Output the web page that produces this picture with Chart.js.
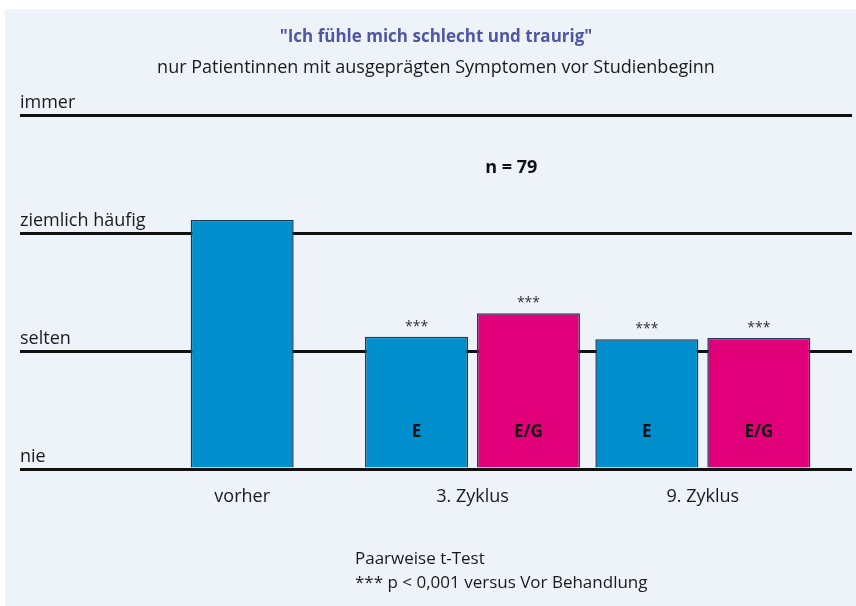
<!DOCTYPE html>
<html lang="de">
<head>
<meta charset="utf-8">
<title>Ich fühle mich schlecht und traurig</title>
<script src="https://cdn.jsdelivr.net/npm/chart.js@4.4.1/dist/chart.umd.min.js"></script>
<style>
    html, body { margin: 0; padding: 0; background: #ffffff; }
    .wrap { position: relative; width: 856px; height: 606px; overflow: hidden; }
    .panel { position: absolute; left: 5px; top: 9px; right: 0; bottom: 0; background: #eef2f9; }
    canvas { position: absolute; left: 0; top: 0; }
    .footer {
        position: absolute; left: 355px; top: 546px;
        font-family: 'Open Sans', sans-serif; font-size: 17px; line-height: 24px; color: #1a1a1a;
    }
</style>
</head>
<body>
<div class="wrap">
    <div class="panel"></div>
    <canvas id="chart" width="856" height="606"></canvas>
    <div class="footer">Paarweise t-Test<br>*** p &lt; 0,001 versus Vor Behandlung</div>
</div>
<script>
/* ---- data ---- */
const categories = ['vorher', '3. Zyklus', '9. Zyklus'];
const levelLabels = ['nie', 'selten', 'ziemlich häufig', 'immer'];   // 0..3
const valuesE = [2.11, 1.12, 1.10];
const valuesEG = [null, 1.32, 1.11];
const starsE = ['', '***', '***'];
const starsEG = ['', '***', '***'];
const sampleNote = 'n = 79';

const BLUE = '#008ecc';
const MAGENTA = '#e2007a';
const FONT = "'Open Sans', sans-serif";

// bar annotations: stars above, series name inside near the base
const barLabels = {
    id: 'barLabels',
    afterDatasetsDraw(chart) {
        const ctx = chart.ctx;
        const y = chart.scales.y;
        ctx.save();
        ctx.textAlign = 'center';
        ctx.textBaseline = 'middle';
        chart.data.datasets.forEach((ds, di) => {
            const meta = chart.getDatasetMeta(di);
            meta.data.forEach((bar, i) => {
                if (ds.data[i] == null) return;
                const stars = ds.stars[i];
                if (stars) {
                    ctx.fillStyle = '#333333';
                    ctx.font = '14px ' + FONT;
                    ctx.fillText(stars, bar.x, bar.y - 10);
                }
                if (i > 0) {
                    ctx.fillStyle = '#111111';
                    ctx.font = 'bold 17px ' + FONT;
                    ctx.fillText(ds.label, bar.x, y.getPixelForValue(0.31));
                }
            });
        });
        // sample size
        const area = chart.chartArea;
        ctx.fillStyle = '#111111';
        ctx.font = 'bold 18px ' + FONT;
        ctx.fillText(sampleNote, area.left + (area.right - area.left) * 0.556, y.getPixelForValue(2.55));
        ctx.restore();
    }
};

new Chart(document.getElementById('chart'), {
    type: 'bar',
    data: {
        labels: categories,
        datasets: [
            {
                label: 'E',
                data: valuesE,
                stars: starsE,
                backgroundColor: BLUE,
                borderColor: '#173a5a',
                borderWidth: 1.5,
                borderSkipped: 'bottom'
            },
            {
                label: 'E/G',
                data: valuesEG,
                stars: starsEG,
                backgroundColor: MAGENTA,
                borderColor: '#1d3b5e',
                borderWidth: 1.5,
                borderSkipped: 'bottom'
            }
        ]
    },
    options: {
        responsive: false,
        animation: false,
        skipNull: true,
        categoryPercentage: 0.972,
        barPercentage: 0.93,
        maxBarThickness: 103,
        layout: { padding: { left: 20, right: 4, top: 0, bottom: 81.4 } },
        plugins: {
            legend: { display: false },
            tooltip: { enabled: false },
            title: {
                display: true,
                text: '"Ich fühle mich schlecht und traurig"',
                color: '#4f57a3',
                font: { family: FONT, size: 17, weight: 'bold' },
                padding: { top: 27, bottom: 9.8 }
            },
            subtitle: {
                display: true,
                text: 'nur Patientinnen mit ausgeprägten Symptomen vor Studienbeginn',
                color: '#1a1a1a',
                font: { family: FONT, size: 18 },
                padding: { top: 0, bottom: 36.2 }
            }
        },
        scales: {
            x: {
                grid: { display: false, drawTicks: false },
                border: { display: false },
                ticks: {
                    color: '#1a1a1a',
                    font: { family: FONT, size: 18 },
                    padding: 17
                }
            },
            y: {
                min: 0,
                max: 3,
                afterFit(scale) { scale.width = 107; },
                afterBuildTicks(scale) {
                    scale.ticks = levelLabels.map((_, i) => ({ value: i }));
                },
                grid: {
                    drawOnChartArea: true,
                    drawTicks: true,
                    tickLength: 107,
                    color: '#111111',
                    lineWidth: 3
                },
                border: { display: false },
                ticks: {
                    mirror: true,
                    crossAlign: 'near',
                    labelOffset: -12,
                    padding: -107,
                    color: '#1a1a1a',
                    font: { family: FONT, size: 18 },
                    callback: (v) => levelLabels[v]
                }
            },
            y2: {
                position: 'right',
                min: 0,
                max: 3,
                afterFit(scale) { scale.width = 34; },
                afterBuildTicks(scale) {
                    scale.ticks = levelLabels.map((_, i) => ({ value: i }));
                },
                grid: {
                    drawOnChartArea: false,
                    drawTicks: true,
                    tickLength: 34,
                    color: '#111111',
                    lineWidth: 3
                },
                border: { display: false },
                ticks: { display: false }
            }
        }
    },
    plugins: [barLabels]
});
</script>
</body>
</html>
